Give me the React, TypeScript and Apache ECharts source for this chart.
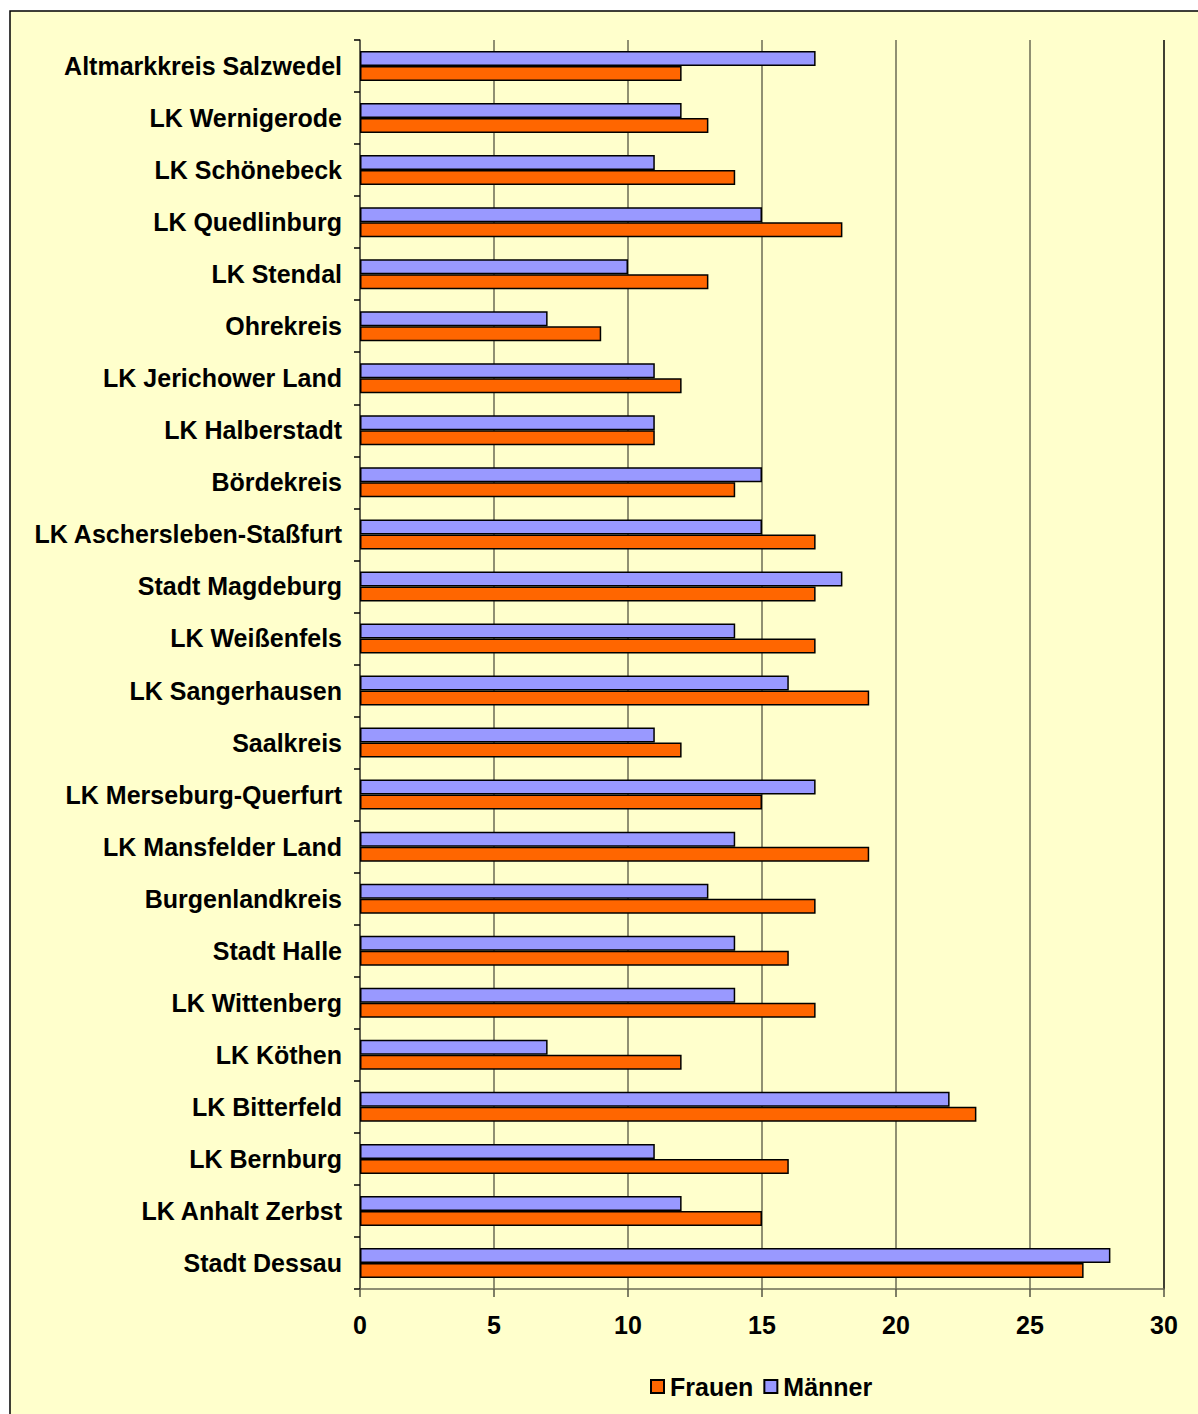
import React, { useEffect, useRef } from "react";
import * as echarts from "echarts";

const categories = [
  "Altmarkkreis Salzwedel",
  "LK Wernigerode",
  "LK Schönebeck",
  "LK Quedlinburg",
  "LK Stendal",
  "Ohrekreis",
  "LK Jerichower Land",
  "LK Halberstadt",
  "Bördekreis",
  "LK Aschersleben-Staßfurt",
  "Stadt Magdeburg",
  "LK Weißenfels",
  "LK Sangerhausen",
  "Saalkreis",
  "LK Merseburg-Querfurt",
  "LK Mansfelder Land",
  "Burgenlandkreis",
  "Stadt Halle",
  "LK Wittenberg",
  "LK Köthen",
  "LK Bitterfeld",
  "LK Bernburg",
  "LK Anhalt Zerbst",
  "Stadt Dessau",
];

const maenner = [17, 12, 11, 15, 10, 7, 11, 11, 15, 15, 18, 14, 16, 11, 17, 14, 13, 14, 14, 7, 22, 11, 12, 28];
const frauen = [12, 13, 14, 18, 13, 9, 12, 11, 14, 17, 17, 17, 19, 12, 15, 19, 17, 16, 17, 12, 23, 16, 15, 27];

const FONT = "'Liberation Sans', Arial, sans-serif";

export default function App() {
  const ref = useRef<HTMLDivElement>(null);
  useEffect(() => {
    document.body.style.margin = "0";
    const chart = echarts.init(ref.current!, undefined, { renderer: "svg" });
    chart.setOption({
      animation: false,
      backgroundColor: "#ffffff",
      graphic: [
        {
          type: "rect",
          shape: { x: 10, y: 11, width: 1200, height: 1420 },
          style: { fill: "#FFFFCC", stroke: "#000000", lineWidth: 1.5 },
          z: -10,
          silent: true,
        },
      ],
      grid: { left: 360, top: 40, right: 34, bottom: 125, containLabel: false },
      legend: {
        data: ["Frauen", "Männer"],
        left: 645,
        top: 1369,
        icon: "rect",
        itemWidth: 13,
        itemHeight: 13,
        itemGap: 10,
        textStyle: {
          fontFamily: FONT,
          fontWeight: "bold",
          fontSize: 25,
          color: "#000",
          padding: [0, 0, 0, 1],
        },
      },
      xAxis: {
        type: "value",
        min: 0,
        max: 30,
        interval: 5,
        axisLine: { show: true, lineStyle: { color: "#6b6b55", width: 1.5 } },
        axisTick: { show: true, length: 8, lineStyle: { color: "#555544", width: 1.5 } },
        axisLabel: {
          margin: 23,
          fontFamily: FONT,
          fontWeight: "bold",
          fontSize: 25,
          color: "#000",
        },
        splitLine: {
          show: true,
          lineStyle: {
            color: ["#6b6b55", "#6b6b55", "#6b6b55", "#6b6b55", "#6b6b55", "#6b6b55", "#000000"],
            width: 1.5,
          },
        },
      },
      yAxis: {
        type: "category",
        data: categories,
        inverse: true,
        axisLine: { show: true, lineStyle: { color: "#555544", width: 1.5 } },
        axisTick: { show: true, length: 6, lineStyle: { color: "#000", width: 1.5 } },
        axisLabel: {
          margin: 18,
          fontFamily: FONT,
          fontWeight: "bold",
          fontSize: 25,
          color: "#000",
        },
      },
      series: [
        {
          name: "Männer",
          type: "bar",
          data: maenner,
          barWidth: 15,
          barGap: "0%",
          itemStyle: { color: "#9999FF", borderColor: "#000", borderWidth: 1.5 },
        },
        {
          name: "Frauen",
          type: "bar",
          data: frauen,
          barWidth: 15,
          barGap: "0%",
          itemStyle: { color: "#FF6600", borderColor: "#000", borderWidth: 1.5 },
        },
      ],
    });
    return () => chart.dispose();
  }, []);
  return <div ref={ref} style={{ width: 1198, height: 1414 }} />;
}
